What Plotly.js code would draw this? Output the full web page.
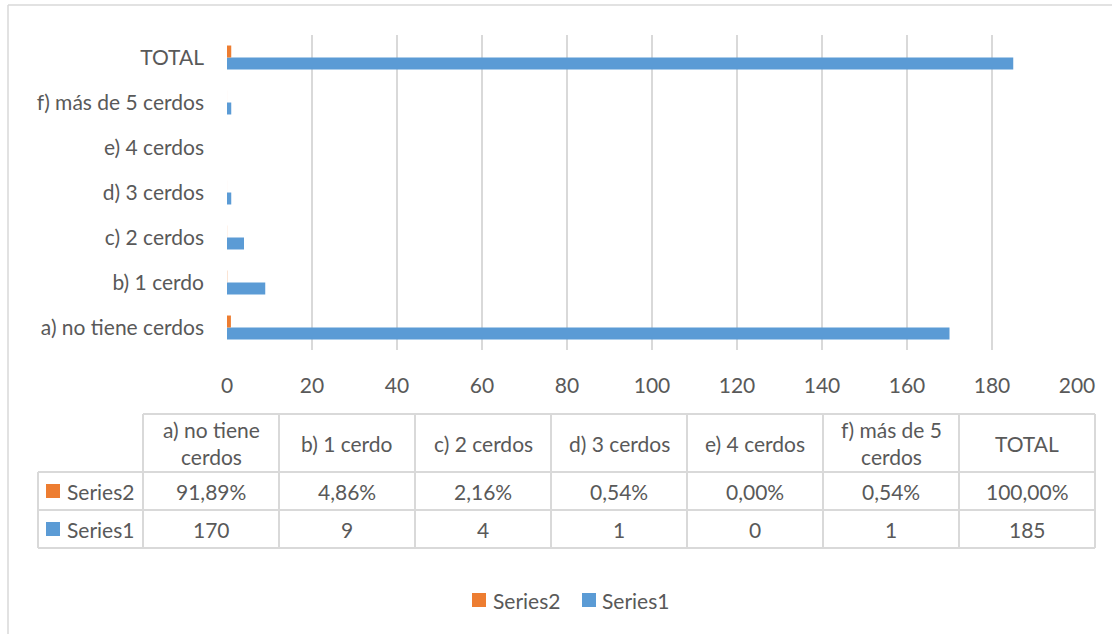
<!DOCTYPE html>
<html>
<head>
<meta charset="utf-8">
<script src="https://cdn.plot.ly/plotly-3.0.1.min.js"></script>
<style>html,body{margin:0;padding:0;background:#fff;}#chart{width:1112px;height:634px;}</style>
</head>
<body>
<div id="chart"></div>
<script>
const categories = ['a) no tiene cerdos','b) 1 cerdo','c) 2 cerdos','d) 3 cerdos','e) 4 cerdos','f) más de 5 cerdos','TOTAL'];
const tableHeaderLabels = ['a) no tiene<br>cerdos','b) 1 cerdo','c) 2 cerdos','d) 3 cerdos','e) 4 cerdos','f) más de 5<br>cerdos','TOTAL'];
const series1 = [170, 9, 4, 1, 0, 1, 185];
const series2 = [0.9189, 0.0486, 0.0216, 0.0054, 0, 0.0054, 1.0];
const series1Name = 'Series1';
const series2Name = 'Series2';
const xTickVals = [0, 20, 40, 60, 80, 100, 120, 140, 160, 180, 200];

const W = 1112, H = 634;
const FONT = 'Lato, "Open Sans", sans-serif';
const TXT = '#595959';
const GRID = '#D9D9D9';
const BLUE = '#5B9BD5';
const ORANGE = '#ED7D31';
const FS = 21;
const px = v => v / W;
const py = v => 1 - v / H;

const fmtPct = v => (v * 100).toFixed(2).replace('.', ',') + '%';
const fmtNum = v => String(v);

const traces = [
  {type: 'bar', orientation: 'h', name: series1Name, y: categories, x: series1,
   marker: {color: BLUE}, hoverinfo: 'x+y', showlegend: false},
  {type: 'bar', orientation: 'h', name: series2Name, y: categories, x: series2,
   marker: {color: ORANGE}, hoverinfo: 'x+y', showlegend: false}
];

// table geometry
const tblLeft = 38, col0Right = 143, colW = 136;
const rowTop = 414, hdrBottom = 472, r1Bottom = 510, r2Bottom = 548;
const nCols = categories.length;
const tblRight = col0Right + colW * nCols;

const shapes = [];
const annotations = [];
const line = (x0, y0, x1, y1, w, c) => shapes.push({type: 'line', xref: 'paper', yref: 'paper',
  x0: px(x0), y0: py(y0), x1: px(x1), y1: py(y1), line: {color: c || GRID, width: w || 2}});
const square = (x, yc, s, color) => shapes.push({type: 'rect', xref: 'paper', yref: 'paper',
  x0: px(x), x1: px(x + s), y0: py(yc - s / 2), y1: py(yc + s / 2), fillcolor: color, line: {width: 0}});
const ann = (x, y, text, anchor) => annotations.push({xref: 'paper', yref: 'paper',
  x: px(x), y: py(y), text: text, showarrow: false, xanchor: anchor || 'center', yanchor: 'middle',
  font: {family: FONT, size: FS, color: TXT}});

// chart area border
line(8, 5, 1112, 5, 1.5);
line(8, 5, 8, 634, 1.5);

// horizontal table lines
line(col0Right, rowTop, tblRight, rowTop);
line(tblLeft, hdrBottom, tblRight, hdrBottom);
line(tblLeft, r1Bottom, tblRight, r1Bottom);
line(tblLeft, r2Bottom, tblRight, r2Bottom);
// vertical table lines
line(tblLeft, hdrBottom, tblLeft, r2Bottom);
for (let i = 0; i <= nCols; i++) {
  const x = col0Right + colW * i;
  line(x, rowTop, x, r2Bottom);
}

// header
tableHeaderLabels.forEach((t, i) => ann(col0Right + colW * (i + 0.5), (rowTop + hdrBottom) / 2, t));
// rows with legend keys
const rows = [
  {name: series2Name, color: ORANGE, vals: series2.map(fmtPct), y0: hdrBottom, y1: r1Bottom},
  {name: series1Name, color: BLUE, vals: series1.map(fmtNum), y0: r1Bottom, y1: r2Bottom}
];
rows.forEach(r => {
  const yc = (r.y0 + r.y1) / 2;
  square(46, yc, 14, r.color);
  ann(65, yc, r.name, 'left');
  r.vals.forEach((v, i) => ann(col0Right + colW * (i + 0.5), yc, v));
});

// legend (bottom)
square(472, 600, 14, ORANGE);
ann(491, 600, series2Name, 'left');
square(582, 600, 14, BLUE);
ann(600, 600, series1Name, 'left');

const layout = {
  width: W, height: H,
  margin: {l: 0, r: 0, t: 0, b: 0, pad: 0},
  paper_bgcolor: '#fff', plot_bgcolor: '#fff',
  font: {family: FONT, size: FS, color: TXT},
  barmode: 'group', bargap: 0.467, bargroupgap: 0,
  xaxis: {domain: [px(227), px(1077)], range: [0, 200], tickvals: xTickVals,
    showgrid: true, gridcolor: GRID, gridwidth: 2, zeroline: false, showline: false,
    ticks: '', ticklabelstandoff: 21, tickfont: {family: FONT, size: FS, color: TXT}, fixedrange: true},
  yaxis: {domain: [py(350), py(35)], type: 'category', showgrid: false, zeroline: false,
    showline: false, ticks: '', ticklabelstandoff: 22,
    tickfont: {family: FONT, size: FS, color: TXT}, fixedrange: true},
  showlegend: false,
  shapes: shapes,
  annotations: annotations
};

Plotly.newPlot('chart', traces, layout, {displayModeBar: false, staticPlot: true});
</script>
</body>
</html>
